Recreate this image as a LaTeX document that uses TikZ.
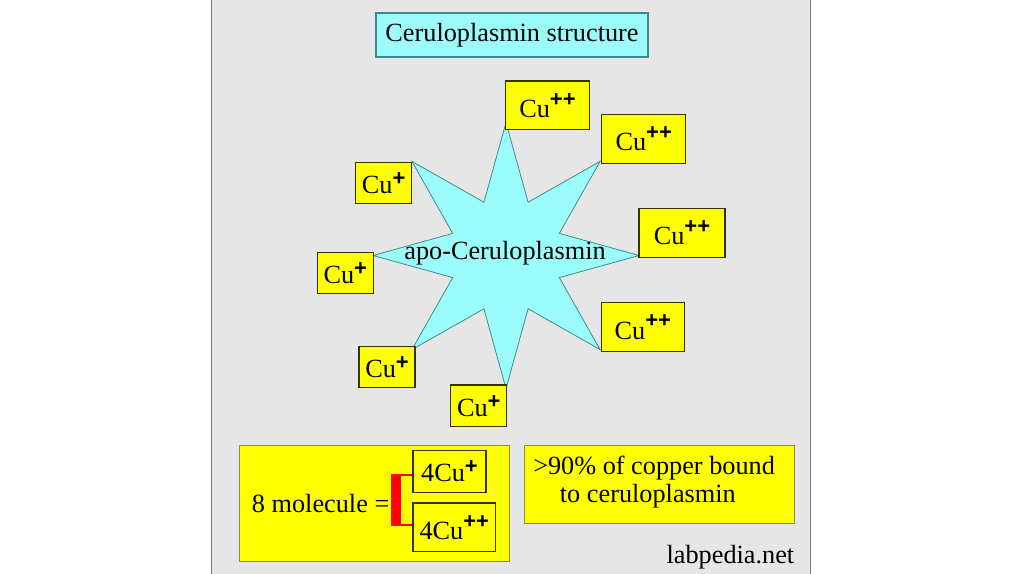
\documentclass[tikz,border=0pt]{standalone}
\usepackage{fontspec}
\setmainfont{Liberation Serif}
\setsansfont{Liberation Sans}
\usetikzlibrary{calc}
\definecolor{panelgrey}{HTML}{E6E6E6}
\definecolor{panelline}{HTML}{7A7A7A}
\definecolor{lightcyan}{HTML}{9CFCFC}
\definecolor{tealline}{HTML}{3C8C8C}
\definecolor{boxline}{HTML}{333300}
\definecolor{bigline}{HTML}{8C8C3C}
\definecolor{cuyellow}{HTML}{FFFF00}
\newcommand\supone{\raisebox{6.0pt}{\fontsize{16.5pt}{16.5pt}\sffamily\bfseries +}}
\newcommand\suptwo{\raisebox{8.3pt}{\fontsize{16.5pt}{16.5pt}\sffamily\bfseries ++}}
\begin{document}
\begin{tikzpicture}[x=0.75pt,y=-0.75pt,
  every node/.style={font=\fontsize{19.7pt}{20.8pt}\selectfont, inner sep=0pt, text=black},
  titlebox/.style={draw=tealline, fill=lightcyan, line width=0.8pt, minimum width=204pt, minimum height=33pt},
  cubox/.style={draw=boxline, fill=cuyellow, line width=0.9pt},
  cuone/.style={cubox, minimum width=42pt, minimum height=30.6pt},
  cutwo/.style={cubox, minimum width=63pt, minimum height=36.6pt},
  bigbox/.style={draw=bigline, fill=cuyellow, line width=0.7pt},
  starshape/.style={draw=tealline, fill=lightcyan, line width=0.6pt},
  bracketbar/.style={draw=red, line width=7.5pt},
  bracketline/.style={draw=red, line width=1.5pt}]
\useasboundingbox (0,0) rectangle (1024,574);
\fill[white] (0,0) rectangle (1024,574);
% panel
\fill[panelgrey] (211.7,0) rectangle (810.7,574);
\draw[panelline, line width=1.1pt] (211.7,0) -- (211.7,574);
\draw[panelline, line width=1.1pt] (810.7,0) -- (810.7,574);
% title
\node[titlebox] (title) at (512,35) {Ceruloplasmin structure};
% star
\begin{scope}[shift={(506,255.5)}]
\draw[starshape] (0:133) \foreach \a in {0,45,...,315} { -- ({\a+22.5}:57.7) -- ({\a+45}:133) } -- cycle;
\end{scope}
\node (apo) at (505,253) {apo-Ceruloplasmin};
% copper boxes
\node[cutwo] (cu1) at (547.5,105.5) {Cu\suptwo};
\node[cutwo] (cu2) at (643.7,138.8) {Cu\suptwo};
\node[cutwo, minimum width=64.5pt] (cu3) at (682,233) {Cu\suptwo};
\node[cutwo, minimum width=62pt] (cu4) at (642.8,327.2) {Cu\suptwo};
\node[cuone, minimum height=31.3pt] (cu5) at (478.8,405.8) {Cu\supone};
\node[cuone] (cu6) at (387,367) {Cu\supone};
\node[cuone] (cu7) at (345.3,273) {Cu\supone};
\node[cuone] (cu8) at (383.7,183.3) {Cu\supone};
% bottom left box
\node[bigbox, minimum width=202.7pt, minimum height=87.5pt] (leftbox) at (374.2,503.3) {};
\node[anchor=base west] (molecule) at (251.7,512.3) {8 molecule =};
\node[cubox, minimum width=54.7pt, minimum height=31.2pt] (c4a) at (449.5,471.5) {4Cu\supone};
\node[cubox, minimum width=62pt, minimum height=36.5pt] (c4b) at (454.3,527.3) {4Cu\suptwo};
\coordinate (brtop) at (396,474.3);
\coordinate (brbot) at (396,525.7);
\coordinate (brtopline) at (400,475.3);
\coordinate (brbotline) at (400,524.7);
\draw[bracketbar] (brtop) -- (brbot);
\draw[bracketline] (brtopline) -- (brtopline -| c4a.west);
\draw[bracketline] (brbotline) -- (brbotline -| c4b.west);
% bottom right box
\node[bigbox, minimum width=202.7pt, minimum height=58.7pt] (rightbox) at (659.2,484.2) {};
\node[anchor=north west, align=left] (copper) at (533,456.2) {>90\% of copper bound\\\hspace*{20pt}to ceruloplasmin};
% credit
\node[anchor=base east] (credit) at (794.5,563.3) {labpedia.net};
\end{tikzpicture}
\end{document}
